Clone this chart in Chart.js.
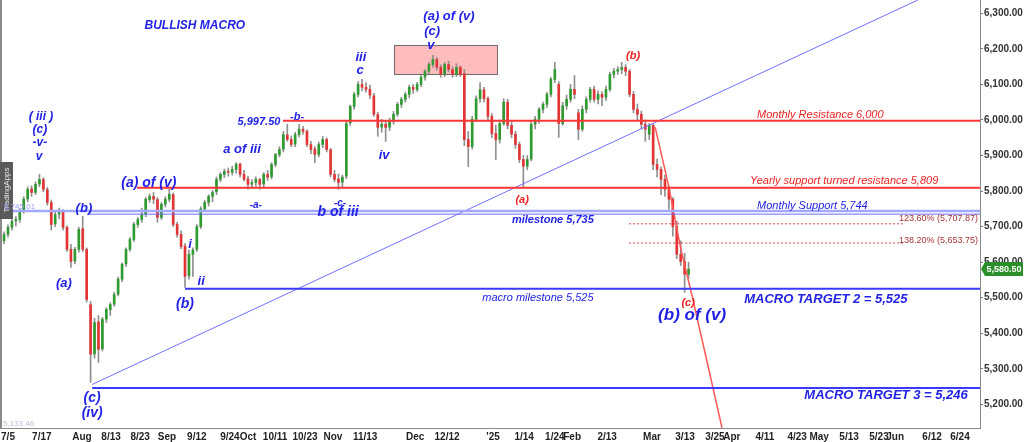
<!DOCTYPE html>
<html>
<head>
<meta charset="utf-8">
<script src="https://cdn.jsdelivr.net/npm/chart.js@4.4.1/dist/chart.umd.min.js"></script>
<style>
    html, body { margin: 0; padding: 0; background: #fff; }
    #wrap { width: 1024px; height: 442px; }
</style>
</head>
<body>
<div id="wrap"><canvas id="chart" width="1024" height="442"></canvas></div>
<script>
// slot of the first candle on the trading-day axis (0 = 7/5)
const firstSlot = -2;

const opens = [5650,5660,5678,5698,5716,5720,5744,5778,5806,5796,5820,5832,5804,5768,5708,5735,5742,5698,5636,5603,
    5636,5694,5636,5480,5342,5432,5356,5440,5466,5482,5510,5552,5595,5636,5664,5706,5720,5735,5776,5785,
    5776,5726,5763,5777,5790,5706,5678,5645,5562,5622,5636,5700,5750,5768,5785,5798,5833,5847,5855,5853,
    5861,5876,5847,5834,5819,5824,5832,5820,5847,5840,5875,5903,5918,5958,5945,5932,5959,5974,5968,5931,
    5918,5903,5931,5945,5916,5847,5834,5825,5842,5992,6038,6072,6100,6092,6086,6068,6015,5980,5988,5980,
    5996,6016,6044,6058,6072,6092,6086,6100,6120,6137,6156,6170,6148,6128,6156,6142,6128,6148,6130,5945,
    5925,6002,6060,6085,6060,6010,5962,5945,5990,6050,5985,5960,5931,5889,5870,5890,5988,6002,6030,6044,
    6072,6114,6100,5990,6040,6058,6086,6020,5974,6030,6058,6086,6058,6072,6064,6086,6128,6137,6142,6148,
    6137,6072,6030,6016,5988,5960,5985,5875,5861,5833,5805,5777,5700,5622,5602,5566];
const highs = [5668,5685,5705,5722,5728,5750,5784,5812,5815,5826,5847,5838,5810,5775,5742,5752,5748,5702,5650,5642,
    5698,5729,5640,5490,5442,5450,5445,5472,5486,5515,5558,5598,5640,5670,5712,5726,5752,5782,5792,5796,
    5782,5768,5784,5805,5795,5712,5688,5652,5634,5640,5706,5756,5774,5790,5802,5840,5852,5862,5865,5870,
    5880,5879,5858,5842,5832,5840,5836,5852,5858,5880,5906,5925,5968,5988,5955,5965,5988,5982,5972,5940,
    5925,5938,5954,5950,5920,5858,5848,5845,5998,6042,6078,6108,6114,6105,6098,6075,6022,6002,5996,6005,
    6024,6050,6064,6078,6098,6100,6106,6126,6142,6162,6182,6176,6155,6162,6165,6150,6158,6152,6142,5968,
    6010,6068,6105,6092,6065,6018,5985,6000,6060,6058,5995,5968,5938,5900,5900,5995,6010,6035,6050,6078,
    6120,6162,6108,6050,6070,6100,6125,6030,6040,6065,6092,6095,6082,6080,6095,6135,6145,6150,6162,6156,
    6142,6080,6045,6025,6000,5990,5990,5890,5868,5845,5815,5782,5715,5660,5625,5600];
const lows = [5640,5652,5670,5690,5702,5712,5738,5770,5785,5790,5812,5798,5760,5690,5700,5722,5690,5630,5585,5595,
    5628,5630,5488,5262,5330,5318,5350,5430,5450,5476,5505,5545,5588,5630,5658,5698,5712,5728,5768,5765,
    5712,5720,5755,5770,5700,5670,5638,5529,5552,5560,5630,5694,5742,5758,5770,5790,5826,5838,5842,5845,
    5850,5840,5828,5805,5808,5814,5805,5812,5830,5834,5868,5896,5910,5940,5925,5925,5952,5960,5925,5905,
    5880,5896,5922,5910,5840,5826,5805,5812,5835,5985,6030,6065,6082,6078,6060,6010,5954,5965,5940,5970,
    5988,6010,6035,6050,6062,6075,6080,6094,6112,6130,6148,6140,6120,6122,6135,6120,6122,6122,5928,5869,
    5918,5995,6050,6050,5995,5950,5889,5935,5985,5975,5950,5920,5880,5813,5860,5885,5975,5990,6020,6035,
    6065,6105,5951,5985,6030,6050,6060,5945,5968,6020,6050,6050,6045,6040,6055,6080,6118,6128,6130,6125,
    6065,6020,5998,5975,5940,5945,5860,5840,5790,5785,5749,5673,5610,5590,5515,5555];
const closes = [5659,5678,5698,5715,5720,5743,5777,5805,5796,5819,5833,5805,5768,5706,5734,5743,5698,5636,5602,5636,
    5692,5636,5495,5341,5430,5355,5439,5467,5481,5509,5552,5594,5636,5664,5706,5720,5734,5777,5785,5777,
    5726,5763,5777,5791,5706,5678,5644,5560,5622,5634,5700,5750,5768,5785,5796,5833,5847,5855,5853,5861,
    5875,5847,5833,5819,5824,5833,5819,5847,5839,5875,5903,5917,5959,5945,5931,5959,5974,5968,5931,5917,
    5903,5931,5945,5917,5847,5833,5824,5839,5990,6038,6072,6100,6092,6086,6070,6016,5979,5988,5979,5996,
    6016,6044,6058,6072,6092,6086,6100,6120,6137,6156,6170,6148,6128,6156,6142,6128,6148,6128,5945,5925,
    6002,6060,6085,6060,6010,5962,5945,5990,6050,5985,5960,5931,5889,5870,5889,5988,6002,6030,6044,6072,
    6114,6142,5990,6040,6058,6086,6072,5974,6030,6058,6086,6058,6072,6064,6086,6128,6137,6142,6148,6137,
    6072,6030,6016,5988,5974,5985,5875,5861,5833,5805,5777,5700,5622,5602,5566,5580.5];

const tickSlots = [0, 8.6, 18.8, 26.2, 33.6, 40.4, 48.0, 56.4, 61.0, 67.9, 75.5, 82.6, 90.8, 103.5, 111.6, 123.3,
    131.2, 139.0, 143.4, 152.3, 163.7, 172.1, 179.7, 184.0, 192.4, 200.6, 206.2, 213.8, 221.4, 225.5, 234.9, 242.0];
const tickLabels = ['7/5', '7/17', 'Aug', '8/13', '8/23', 'Sep', '9/12', '9/24', 'Oct', '10/11', '10/23', 'Nov',
    '11/13', 'Dec', '12/12', "'25", '1/14', '1/24', 'Feb', '2/13', 'Mar', '3/13', '3/25', 'Apr', '4/11', '4/23',
    'May', '5/13', '5/23', 'Jun', '6/12', '6/24'];
const priceTicks = [5200, 5300, 5400, 5500, 5600, 5700, 5800, 5900, 6000, 6100, 6200, 6300];

// horizontal levels and where each one starts
const levelValues = [5997.5, 5809, 5744, 5735, 5525, 5246];
const levelStarts = [69.9, 32.8, -2.1, 20.3, 45.0, 21.4];
const fibValues = [5707.87, 5653.75];
const fibStart = 157.9, fibEnd = 227.5;

// trend line and the falling curve
const trendX = [21.4, 231.3];
const trendY = [5256, 6337.5];
const curveX = [164.5, 168, 171, 174, 181.5];
const curveY = [5980, 5810, 5640, 5500, 5134];

// top zone box
const zoneX = [98.1, 124.3];
const zoneY = [6128, 6210];

const lastPrice = 5580.50;

const xMin = -2.03, xMax = 247.08;
const yMin = 5133.46, yMax = 6337.5;

const FONT = 'Arial, "Liberation Sans", sans-serif';
const BLUE = '#2222e6';
const RED = '#ec2222';

const notes = [
    { t: 'BULLISH MACRO', at: [47.5, 6264], f: 'italic bold 12px' },
    { t: '( iii )', at: [8.4, 6008], f: 'italic bold 12px' },
    { t: '(c)', at: [8.1, 5972], f: 'italic bold 12px' },
    { t: '-v-', at: [8.1, 5935], f: 'italic bold 12px' },
    { t: 'v', at: [7.9, 5896], f: 'italic bold 12px' },
    { t: '(a)', at: [14.2, 5541], f: 'italic bold 13px' },
    { t: '(b)', at: [19.3, 5750], f: 'italic bold 13px' },
    { t: '(a) of (v)', at: [35.8, 5823], f: 'italic bold 14px' },
    { t: '(c)', at: [21.4, 5218], f: 'italic bold 14px' },
    { t: '(iv)', at: [21.4, 5176], f: 'italic bold 14px' },
    { t: '(b)', at: [45.0, 5482], f: 'italic bold 14px' },
    { t: 'i', at: [46.3, 5651], f: 'italic bold 13px' },
    { t: 'ii', at: [49.1, 5547], f: 'italic bold 13px' },
    { t: 'a of iii', at: [59.5, 5916], f: 'italic bold 13px' },
    { t: '-a-', at: [63.0, 5761], f: 'italic bold 10px' },
    { t: '5,997.50', at: [63.8, 5994], f: 'italic bold 11px' },
    { t: '-b-', at: [73.5, 6008], f: 'italic bold 11px' },
    { t: '-c-', at: [84.4, 5766], f: 'italic bold 10px' },
    { t: 'b of iii', at: [83.9, 5741], f: 'italic bold 14px' },
    { t: 'iii', at: [89.7, 6177], f: 'italic bold 13px' },
    { t: 'c', at: [89.5, 6138], f: 'italic bold 13px' },
    { t: 'iv', at: [95.6, 5899], f: 'italic bold 13px' },
    { t: '(a) of (v)', at: [112.1, 6290], f: 'italic bold 13px' },
    { t: '(c)', at: [107.8, 6250], f: 'italic bold 13px' },
    { t: 'v', at: [107.5, 6211], f: 'italic bold 13px' },
    { t: '(a)', at: [130.7, 5775], f: 'italic bold 11px', c: RED },
    { t: '(b)', at: [158.9, 6180], f: 'italic bold 11px', c: RED },
    { t: '(c)', at: [172.9, 5485], f: 'italic bold 11px', c: RED },
    { t: '(b) of (v)', at: [173.9, 5451], f: 'italic bold 17px' },
    { t: 'milestone 5,735', at: [138.5, 5719], f: 'italic bold 11px' },
    { t: 'macro milestone 5,525', at: [134.7, 5499], f: 'italic 11px' },
    { t: 'MACRO TARGET 2 = 5,525', at: [207.9, 5496], f: 'italic bold 13px' },
    { t: 'MACRO TARGET 3 = 5,246', at: [223.2, 5224], f: 'italic bold 13px' },
    { t: 'Monthly Resistance 6,000', at: [190.4, 6014], f: 'italic 11px', c: RED, a: 'left' },
    { t: 'Yearly support turned resistance 5,809', at: [188.6, 5828], f: 'italic 11px', c: RED, a: 'left' },
    { t: 'Monthly Support 5,744', at: [190.4, 5758], f: 'italic 11px', a: 'left' },
    { t: '123.60% (5,707.87)', at: [246.6, 5724], f: '9px', c: '#a53535', a: 'right' },
    { t: '138.20% (5,653.75)', at: [246.6, 5662], f: '9px', c: '#a53535', a: 'right' }
];

const wickData = opens.map((o, i) => ({ x: firstSlot + i, y: [lows[i], highs[i]] }));
const bodyData = opens.map((o, i) => ({ x: firstSlot + i, y: [o, closes[i]] }));
const bodyColors = opens.map((o, i) => closes[i] >= o ? '#2f9a2f' : '#e23434');

function hLine(value, start, end, color, width, dash) {
    return {
        type: 'line',
        data: [{ x: start, y: value }, { x: end, y: value }],
        borderColor: color,
        borderWidth: width,
        borderDash: dash || [],
        pointRadius: 0,
        order: 1
    };
}

const levelColors = ['#ff3434', '#ff3434', '#a3a8ff', '#6e6ef0', '#3a3aff', '#3a3aff'];
const levelWidths = [2, 2, 2.5, 1, 2, 2];

const datasets = [
    { type: 'bar', data: wickData, backgroundColor: '#8f8f8f', barThickness: 1, grouped: false, order: 3 },
    { type: 'bar', data: bodyData, backgroundColor: bodyColors, barThickness: 2, minBarLength: 1, grouped: false, order: 2 }
];
levelValues.forEach((v, i) => datasets.push(hLine(v, levelStarts[i], xMax, levelColors[i], levelWidths[i])));
fibValues.forEach(v => datasets.push(hLine(v, fibStart, fibEnd, '#c24848', 1, [2, 2])));
datasets.push({
    type: 'line',
    data: trendX.map((x, i) => ({ x: x, y: trendY[i] })),
    borderColor: '#6f6fff', borderWidth: 1, pointRadius: 0, order: 1
});
datasets.push({
    type: 'line',
    data: curveX.map((x, i) => ({ x: x, y: curveY[i] })),
    borderColor: '#ff5656', borderWidth: 1.5, pointRadius: 0, tension: 0.3, order: 1
});

const overlay = {
    id: 'overlay',
    beforeDatasetsDraw(chart) {
        const { ctx, scales: { x, y } } = chart;
        const x0 = x.getPixelForValue(zoneX[0]), x1 = x.getPixelForValue(zoneX[1]);
        const y0 = y.getPixelForValue(zoneY[1]), y1 = y.getPixelForValue(zoneY[0]);
        ctx.save();
        ctx.fillStyle = '#ffbcbc';
        ctx.fillRect(x0, y0, x1 - x0, y1 - y0);
        ctx.strokeStyle = '#6e6e6e';
        ctx.lineWidth = 1;
        ctx.strokeRect(Math.round(x0) + 0.5, Math.round(y0) + 0.5, Math.round(x1 - x0), Math.round(y1 - y0));
        ctx.restore();
    },
    afterDatasetsDraw(chart) {
        const { ctx, scales: { x, y } } = chart;
        ctx.save();
        ctx.textBaseline = 'middle';
        notes.forEach(n => {
            ctx.font = n.f + ' ' + FONT;
            ctx.fillStyle = n.c || BLUE;
            ctx.textAlign = n.a || 'center';
            ctx.fillText(n.t, x.getPixelForValue(n.at[0]), y.getPixelForValue(n.at[1]));
        });
        ctx.restore();
    },
    afterDraw(chart) {
        const { ctx, chartArea, scales: { y } } = chart;
        ctx.save();
        // left frame
        ctx.fillStyle = '#8a8a8a';
        ctx.fillRect(chartArea.left, chartArea.top, 2, chartArea.bottom - chartArea.top);
        // watermark tab
        ctx.fillStyle = '#5a5a5a';
        ctx.fillRect(chartArea.left, 162, 13, 57);
        ctx.translate(chartArea.left + 7, 190);
        ctx.rotate(-Math.PI / 2);
        ctx.fillStyle = '#e8e8e8';
        ctx.font = '8px ' + FONT;
        ctx.textAlign = 'center';
        ctx.textBaseline = 'middle';
        ctx.fillText('TradingApps', 0, 0);
        ctx.restore();

        ctx.save();
        ctx.font = '8px ' + FONT;
        ctx.textBaseline = 'middle';
        ctx.fillStyle = '#9aa0ff';
        ctx.fillText('5,745.01', chartArea.left + 4, y.getPixelForValue(5756));
        ctx.fillStyle = '#b8c0d8';
        ctx.fillText('5,133.46', chartArea.left + 3, chartArea.bottom - 4);

        // last price badge
        const py = y.getPixelForValue(lastPrice);
        const bx = chartArea.right + 1;
        ctx.fillStyle = '#2a8f2a';
        ctx.beginPath();
        ctx.moveTo(bx, py);
        ctx.lineTo(bx + 4, py - 7);
        ctx.lineTo(1023, py - 7);
        ctx.lineTo(1023, py + 7);
        ctx.lineTo(bx + 4, py + 7);
        ctx.closePath();
        ctx.fill();
        ctx.fillStyle = '#ffffff';
        ctx.font = 'bold 9px ' + FONT;
        ctx.textAlign = 'center';
        ctx.fillText(lastPrice.toLocaleString('en-US', { minimumFractionDigits: 2 }), (bx + 1023) / 2 + 2, py + 0.5);
        ctx.restore();
    }
};

new Chart(document.getElementById('chart').getContext('2d'), {
    type: 'bar',
    data: { datasets: datasets },
    options: {
        responsive: false,
        animation: false,
        layout: { padding: 0 },
        plugins: { legend: { display: false }, tooltip: { enabled: false } },
        scales: {
            x: {
                type: 'linear',
                min: xMin,
                max: xMax,
                offset: false,
                grid: { display: false, drawTicks: false },
                border: { color: '#8a8a8a' },
                ticks: {
                    autoSkip: false,
                    maxRotation: 0,
                    padding: 3,
                    color: '#222',
                    font: { family: FONT, size: 10, weight: 'bold' },
                    callback: (v, i) => tickLabels[i]
                },
                afterBuildTicks: axis => { axis.ticks = tickSlots.map(v => ({ value: v })); },
                afterFit: axis => { axis.height = 14; axis.paddingLeft = 0; axis.paddingRight = 0; }
            },
            y: {
                position: 'right',
                min: yMin,
                max: yMax,
                grid: { drawOnChartArea: false, drawTicks: true, tickLength: 3, color: '#777' },
                border: { color: '#8a8a8a' },
                ticks: {
                    padding: 1,
                    color: '#333',
                    font: { family: FONT, size: 10, weight: 'bold' },
                    callback: v => v.toLocaleString('en-US', { minimumFractionDigits: 2, maximumFractionDigits: 2 })
                },
                afterBuildTicks: axis => { axis.ticks = priceTicks.map(v => ({ value: v })); },
                afterFit: axis => { axis.width = 44; axis.paddingTop = 0; axis.paddingBottom = 0; }
            }
        }
    },
    plugins: [overlay]
});
</script>
</body>
</html>
